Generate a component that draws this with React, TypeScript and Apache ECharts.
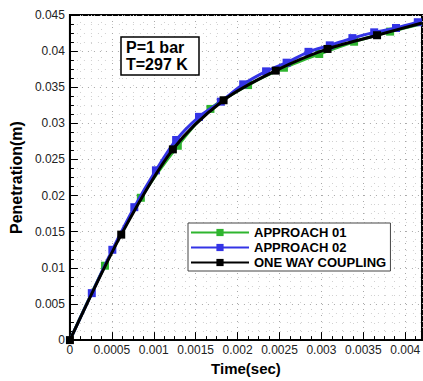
import React, { useEffect, useRef } from "react";
import * as echarts from "echarts";

const seriesNames = ["APPROACH 01", "APPROACH 02", "ONE WAY COUPLING"];

// Marker points
const greenT = [0.000418, 0.000846, 0.001287, 0.001676, 0.002125, 0.002553, 0.002974, 0.00339, 0.00382];
const greenY = [0.0103, 0.0197, 0.0269, 0.032, 0.0353, 0.0377, 0.0396, 0.0413, 0.0427];

const blueT = [0.000261, 0.000506, 0.000768, 0.001026, 0.001267, 0.00154, 0.0018, 0.002067, 0.00234, 0.002585, 0.002846, 0.0031, 0.00337, 0.00363, 0.00389, 0.00415];
const blueY = [0.0065, 0.0125, 0.0184, 0.0235, 0.0277, 0.0309, 0.033, 0.0354, 0.0372, 0.0384, 0.0399, 0.0408, 0.0418, 0.0426, 0.0432, 0.044];

const blackT = [0, 0.000612, 0.001228, 0.001833, 0.002456, 0.003073, 0.003664];
const blackY = [0, 0.0146, 0.0264, 0.0332, 0.0373, 0.0403, 0.0422];

// Line-only points (no marker): start and end of each curve
const greenLineStart = [0, 0];
const greenLineEnd = [0.0042, 0.0438];
const blueLineStart = [0, 0];
const blueLineEnd = [0.0042, 0.0441];
const blackLineEnd = [0.0042, 0.0439];

const xTickLabels = ["0", "0.0005", "0.001", "0.0015", "0.002", "0.0025", "0.003", "0.0035", "0.004"];

const FONT = "'Liberation Sans', Arial, sans-serif";

function build(ts: number[], ys: number[], start: number[] | null, end: number[] | null) {
  const data: any[] = [];
  if (start) data.push({ value: start, symbol: "none" });
  ts.forEach((t, i) => data.push({ value: [t, ys[i]] }));
  if (end) data.push({ value: end, symbol: "none" });
  return data;
}

export default function App() {
  const ref = useRef<HTMLDivElement>(null);
  useEffect(() => {
    if (!ref.current) return;
    const chart = echarts.init(ref.current, undefined, { renderer: "svg" });
    const gridLine = { show: true, lineStyle: { color: "#a8a8a8", type: [1, 5] as any, width: 1 } };
    const minorGrid = { show: true, lineStyle: { color: "#d0d0d0", type: [1, 6] as any, width: 1 } };
    chart.setOption({
      animation: false,
      backgroundColor: "#fff",
      grid: { left: 65, right: -1, top: 15, bottom: 31, show: true, borderColor: "#000", borderWidth: 2 },
      xAxis: {
        type: "value",
        min: 0,
        max: 0.0042,
        interval: 0.0005,
        name: "Time(sec)",
        nameLocation: "middle",
        nameGap: 20,
        nameTextStyle: { fontFamily: FONT, fontWeight: "bold", fontSize: 15, color: "#000" },
        axisLine: { show: true, lineStyle: { color: "#000", width: 2 } },
        axisTick: { show: true, inside: true, length: 8, lineStyle: { color: "#000", width: 1 } },
        minorTick: { show: true, splitNumber: 4, length: 4, lineStyle: { color: "#000" } },
        axisLabel: {
          showMaxLabel: false,
          margin: 4,
          fontFamily: FONT,
          fontSize: 12,
          color: "#222",
          formatter: (v: number) => {
            const idx = Math.round(v / 0.0005);
            return xTickLabels[idx] ?? String(v);
          },
        },
        splitLine: gridLine,
        minorSplitLine: minorGrid,
      },
      yAxis: {
        type: "value",
        min: 0,
        max: 0.045,
        interval: 0.005,
        name: "Penetration(m)",
        nameLocation: "middle",
        nameGap: 35,
        nameTextStyle: { fontFamily: FONT, fontWeight: "bold", fontSize: 16, color: "#000" },
        axisLine: { show: true, lineStyle: { color: "#000", width: 2 } },
        axisTick: { show: true, inside: true, length: 8, lineStyle: { color: "#000", width: 1 } },
        minorTick: { show: true, splitNumber: 4, length: 4, lineStyle: { color: "#000" } },
        axisLabel: { margin: 5, fontFamily: FONT, fontSize: 12, color: "#222" },
        splitLine: gridLine,
        minorSplitLine: minorGrid,
      },
      legend: {
        data: seriesNames,
        orient: "vertical",
        left: 188,
        top: 223,
        itemWidth: 58,
        itemHeight: 9,
        itemGap: 2,
        padding: [3, 4, 2, 2],
        backgroundColor: "#fff",
        borderColor: "#444",
        borderWidth: 1,
        borderRadius: 0,
        textStyle: { fontFamily: FONT, fontWeight: "bold", fontSize: 13, color: "#000", padding: [0, 0, 0, 0] },
      },
      graphic: [
        {
          type: "rect",
          shape: { x: 121, y: 37, width: 78, height: 38 },
          style: { fill: "#fff", stroke: "#000", lineWidth: 1.5 },
          z: 100,
        },
        {
          type: "text",
          x: 126,
          y: 39,
          z: 101,
          style: {
            text: "P=1 bar",
            font: `bold 16px ${FONT}`,
            fill: "#000",
          },
        },
        {
          type: "text",
          x: 126,
          y: 56,
          z: 101,
          style: {
            text: "T=297 K",
            font: `bold 16px ${FONT}`,
            fill: "#000",
          },
        },
      ],
      series: [
        {
          name: seriesNames[0],
          type: "line",
          smooth: 0.3,
          symbol: "rect",
          symbolSize: 8,
          itemStyle: { color: "#2fb52f" },
          lineStyle: { color: "#2fb52f", width: 3 },
          data: build(greenT, greenY, greenLineStart, greenLineEnd),
          z: 2,
        },
        {
          name: seriesNames[1],
          type: "line",
          smooth: 0.3,
          symbol: "rect",
          symbolSize: 8,
          itemStyle: { color: "#3434e6" },
          lineStyle: { color: "#3434e6", width: 3 },
          data: build(blueT, blueY, blueLineStart, blueLineEnd),
          z: 3,
        },
        {
          name: seriesNames[2],
          type: "line",
          smooth: 0.3,
          symbol: "rect",
          symbolSize: 8,
          itemStyle: { color: "#000" },
          lineStyle: { color: "#000", width: 3 },
          data: build(blackT, blackY, null, blackLineEnd),
          z: 4,
        },
      ],
    });
    return () => chart.dispose();
  }, []);
  return (
    <div
      ref={ref}
      style={{ position: "fixed", left: 0, top: 0, width: 423, height: 381, background: "#fff" }}
    />
  );
}
